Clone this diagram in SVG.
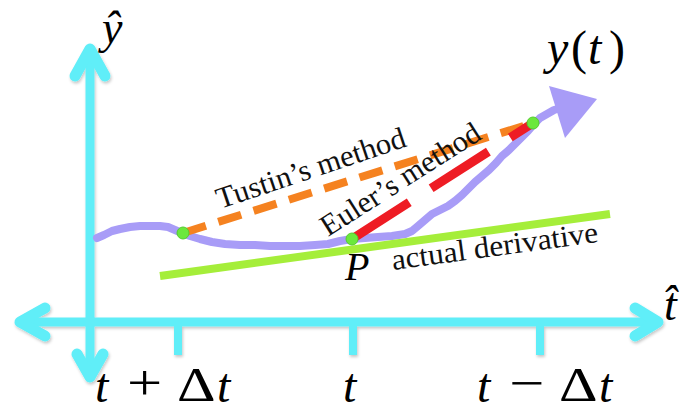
<svg xmlns="http://www.w3.org/2000/svg" width="681" height="411" viewBox="0 0 681 411">
<style>
.ax{fill:none;stroke:#60EEF8;stroke-width:9;stroke-linecap:round;stroke-linejoin:round}
.head{fill:none;stroke:#60EEF8;stroke-width:11;stroke-linecap:round;stroke-linejoin:round}
.tick{fill:none;stroke:#60EEF8;stroke-width:8}
.m{font-family:"Liberation Serif","Times New Roman",serif;fill:#000}
.i{font-style:italic}
.lbl{font-family:"Liberation Serif","Times New Roman",serif;font-size:30px;fill:#111}
.dot{fill:#6BE83C;stroke:#55CC30;stroke-width:1}
</style>
<defs>
<filter id="sh" x="-10%" y="-10%" width="120%" height="120%">
<feDropShadow dx="1" dy="2" stdDeviation="1.5" flood-color="#000" flood-opacity="0.22"/>
</filter>
</defs>
<g id="axes" filter="url(#sh)">
<path class="ax" d="M90,49 L90,377"/>
<path class="ax" d="M20,322 L658,322"/>
<path class="head" d="M75,76 L90,49 L105,76"/>
<path class="head" d="M77,354 L90,377 L103,354"/>
<path class="head" d="M45,308 L20,322 L45,336"/>
<path class="head" d="M635,308 L658,322 L635,336"/>
<path class="tick" d="M178,322 L178,355"/>
<path class="tick" d="M353,322 L353,355"/>
<path class="tick" d="M540,322 L540,355"/>
</g>
<g id="connectors">
<g id="curve">
<path fill="none" stroke="#A89CF7" stroke-width="8" stroke-linejoin="round" stroke-linecap="round" d="M97,238 L104,235 L112,231 L120,229 L130,227 L140,226 L150,226 L160,226 L168,227 L175,230 L182,233 L190,236 L200,239 L212,242 L225,244 L240,245 L255,245 L270,246 L285,246 L300,246 L315,245 L328,244 L340,241 L352,239 L365,238 L378,237 L392,236 L405,234 L412,231 L418,226 L425,220 L432,214 L440,210 L448,206 L455,201 L462,195 L468,189 L475,182 L482,176 L489,170 L496,163 L502,156 L509,150 L515,144 L522,137 L528,131 L534,124 L540,118 L547,114 L554,110 L561,108"/>
<polygon fill="#A89CF7" points="549,86 597,99 565,138"/>
</g>
<path id="derivative" fill="none" stroke="#A5EE3A" stroke-width="8" d="M160,276 L610,214"/>
<path id="tustin" fill="none" stroke="#F58220" stroke-width="8" stroke-dasharray="24 13" d="M183,233 L533,123"/>
<path id="euler" fill="none" stroke="#EE1C24" stroke-width="9" stroke-dasharray="68 26" d="M352,239 L533,123"/>
</g>
<g id="points">
<circle class="dot" cx="183" cy="233" r="6"/>
<circle class="dot" cx="352" cy="239" r="6"/>
<circle class="dot" cx="533" cy="123" r="6"/>
</g>
<g id="labels">
<text class="lbl" transform="translate(220,209) rotate(-18.5)" textLength="198" lengthAdjust="spacingAndGlyphs">Tustin’s method</text>
<text class="lbl" transform="translate(328,237) rotate(-32.5)" textLength="184" lengthAdjust="spacingAndGlyphs">Euler’s method</text>
<text class="lbl" transform="translate(393,270) rotate(-7.8)" textLength="208" lengthAdjust="spacingAndGlyphs">actual derivative</text>
<text class="m i" x="345" y="280" font-size="40">P</text>
<text class="m i" x="102" y="43" font-size="46">ŷ</text>
<text class="m" y="64" font-size="48"><tspan class="i" x="547">y</tspan><tspan x="571">(</tspan><tspan class="i" x="588">t</tspan><tspan x="609">)</tspan></text>
<text class="m i" x="664" y="320" font-size="46">t̂</text>
<text class="m i" x="95" y="402" font-size="48">t</text>
<text class="m" transform="translate(127,400) scale(1.25,1)" font-size="50">+</text>
<text class="m" transform="translate(177,401) scale(1.25,1)" font-size="48">Δ</text>
<text class="m i" x="217" y="402" font-size="48">t</text>
<text class="m i" x="343" y="402" font-size="48">t</text>
<text class="m i" x="477" y="402" font-size="48">t</text>
<text class="m" transform="translate(509,400) scale(1.25,1)" font-size="50">−</text>
<text class="m" transform="translate(559,401) scale(1.25,1)" font-size="48">Δ</text>
<text class="m i" x="599" y="402" font-size="48">t</text>
</g>
</svg>
